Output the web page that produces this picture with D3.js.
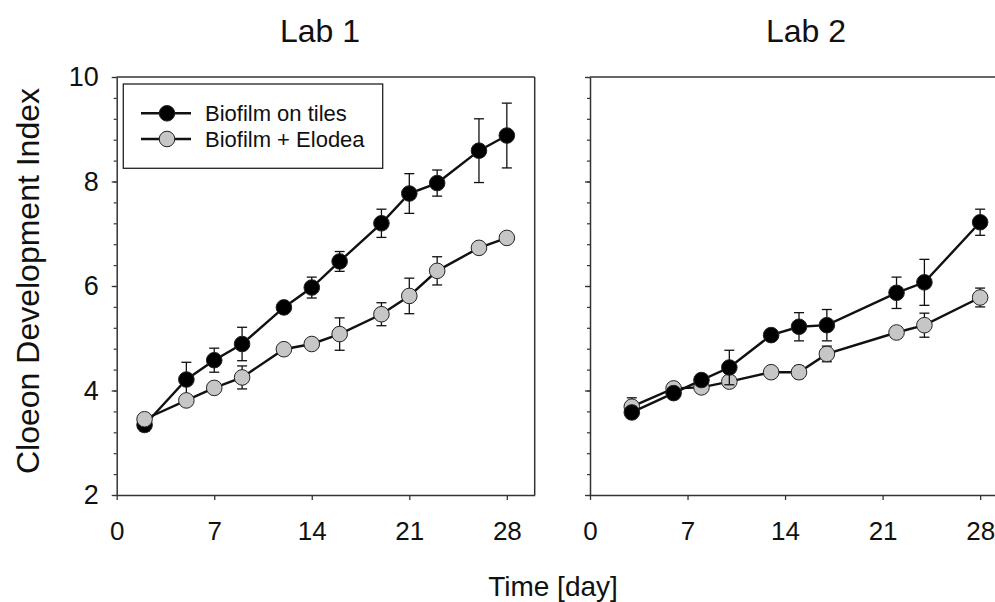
<!DOCTYPE html>
<html>
<head>
<meta charset="utf-8">
<script src="https://cdn.jsdelivr.net/npm/d3@7"></script>
<style>
  body { margin: 0; background: #fff; }
  text { font-family: "Liberation Sans", Arial, sans-serif; fill: #111; }
</style>
</head>
<body>
<div id="chart"></div>
<script>
// data
var seriesNames = ["Biofilm on tiles", "Biofilm + Elodea"];

var lab1Days = [2, 5, 7, 9, 12, 14, 16, 19, 21, 23, 26, 28];
var lab1Tiles = [3.34, 4.21, 4.58, 4.89, 5.59, 5.97, 6.47, 7.20, 7.77, 7.97, 8.59, 8.88];
var lab1TilesErr = [0.12, 0.33, 0.23, 0.32, 0.08, 0.20, 0.19, 0.27, 0.38, 0.25, 0.61, 0.62];
var lab1Elodea = [3.45, 3.81, 4.05, 4.25, 4.79, 4.89, 5.08, 5.46, 5.81, 6.29, 6.73, 6.92];
var lab1ElodeaErr = [0.05, 0.08, 0.10, 0.22, 0.08, 0.10, 0.31, 0.22, 0.34, 0.27, 0.10, 0.08];

var lab2Days = [3, 6, 8, 10, 13, 15, 17, 22, 24, 28];
var lab2Tiles = [3.58, 3.95, 4.20, 4.44, 5.06, 5.22, 5.25, 5.87, 6.07, 7.22];
var lab2TilesErr = [0.10, 0.10, 0.10, 0.33, 0.10, 0.27, 0.30, 0.30, 0.44, 0.25];
var lab2Elodea = [3.69, 4.04, 4.06, 4.17, 4.35, 4.35, 4.70, 5.11, 5.25, 5.78];
var lab2ElodeaErr = [0.17, 0.10, 0.10, 0.10, 0.10, 0.12, 0.15, 0.10, 0.23, 0.18];

var xTicks = [0, 7, 14, 21, 28];
var yTicks = [2, 4, 6, 8, 10];
var yMinorTicks = d3.range(2, 10.01, 0.4);

var svgWidth = 995;
var svgHeight = 602;

var panelWidth = 418;
var plotTop = 77;
var plotBottom = 495;
var plotHeight = plotBottom - plotTop;

var svg = d3.select("#chart")
    .append("svg")
    .attr("width", svgWidth)
    .attr("height", svgHeight);

var xScale = d3.scaleLinear().domain([0, 30]).range([0, panelWidth]);
var yScale = d3.scaleLinear().domain([2, 10]).range([plotHeight, 0]);

var colors = { tiles: "#000", elodea: "#c6c6c6" };
var markerR = 7.8;

function drawSeries(g, days, vals, errs, fill) {
    var pts = days.map(function (d, i) { return { x: d, y: vals[i], e: errs[i] }; });

    // error bars
    var eb = g.append("g").attr("stroke", "#111").attr("stroke-width", 1.3);
    pts.forEach(function (p) {
        var cx = xScale(p.x);
        var y1 = yScale(p.y + p.e), y2 = yScale(p.y - p.e);
        eb.append("line").attr("x1", cx).attr("x2", cx).attr("y1", y1).attr("y2", y2);
        eb.append("line").attr("x1", cx - 5).attr("x2", cx + 5).attr("y1", y1).attr("y2", y1);
        eb.append("line").attr("x1", cx - 5).attr("x2", cx + 5).attr("y1", y2).attr("y2", y2);
    });

    var line = d3.line().x(function (p) { return xScale(p.x); }).y(function (p) { return yScale(p.y); });
    g.append("path")
        .datum(pts)
        .attr("d", line)
        .attr("fill", "none")
        .attr("stroke", "#111")
        .attr("stroke-width", 2.4);

    g.selectAll(null)
        .data(pts)
        .enter()
        .append("circle")
        .attr("cx", function (p) { return xScale(p.x); })
        .attr("cy", function (p) { return yScale(p.y); })
        .attr("r", markerR)
        .attr("fill", fill)
        .attr("stroke", "#222")
        .attr("stroke-width", 1);
}

function drawPanel(left, title, titleX, showYLabels) {
    var g = svg.append("g").attr("transform", "translate(" + left + "," + plotTop + ")");

    // frame top and right
    g.append("line").attr("x1", 0).attr("x2", panelWidth).attr("y1", 0).attr("y2", 0)
        .attr("stroke", "#333").attr("stroke-width", 1.5);
    g.append("line").attr("x1", panelWidth).attr("x2", panelWidth).attr("y1", 0).attr("y2", plotHeight)
        .attr("stroke", "#333").attr("stroke-width", 1.5);

    // minor y ticks
    g.append("g")
        .call(d3.axisLeft(yScale).tickValues(yMinorTicks).tickSize(3).tickSizeOuter(0).tickFormat(""))
        .call(function (a) { a.select(".domain").remove(); })
        .selectAll("line").attr("stroke", "#333").attr("stroke-width", 1.2);

    var yAxis = g.append("g")
        .call(d3.axisLeft(yScale).tickValues(yTicks).tickSize(5).tickSizeOuter(0).tickPadding(13)
            .tickFormat(showYLabels ? d3.format("d") : ""));
    yAxis.select(".domain").attr("stroke", "#333").attr("stroke-width", 1.5);
    yAxis.selectAll("line").attr("stroke", "#333").attr("stroke-width", 1.3);
    yAxis.selectAll("text").attr("font-size", 27).attr("fill", "#111")
        .attr("font-family", "Liberation Sans, Arial, sans-serif");

    var xAxis = g.append("g")
        .attr("transform", "translate(0," + plotHeight + ")")
        .call(d3.axisBottom(xScale).tickValues(xTicks).tickSize(5).tickSizeOuter(0).tickPadding(22));
    xAxis.select(".domain").attr("stroke", "#333").attr("stroke-width", 1.5);
    xAxis.selectAll("line").attr("stroke", "#333").attr("stroke-width", 1.3);
    xAxis.selectAll("text").attr("font-size", 26).attr("fill", "#111")
        .attr("font-family", "Liberation Sans, Arial, sans-serif");

    svg.append("text")
        .attr("x", titleX)
        .attr("y", 42)
        .attr("text-anchor", "middle")
        .attr("font-size", 32)
        .text(title);

    return g;
}

var g1 = drawPanel(116.7, "Lab 1", 320, true);
drawSeries(g1, lab1Days, lab1Tiles, lab1TilesErr, colors.tiles);
drawSeries(g1, lab1Days, lab1Elodea, lab1ElodeaErr, colors.elodea);

var g2 = drawPanel(590, "Lab 2", 806, false);
drawSeries(g2, lab2Days, lab2Elodea, lab2ElodeaErr, colors.elodea);
drawSeries(g2, lab2Days, lab2Tiles, lab2TilesErr, colors.tiles);

// legend
var legend = svg.append("g");
legend.append("rect")
    .attr("x", 123.3).attr("y", 84)
    .attr("width", 259.4).attr("height", 84.3)
    .attr("fill", "#fff").attr("stroke", "#222").attr("stroke-width", 1.3);

[colors.tiles, colors.elodea].forEach(function (c, i) {
    var ly = 113.3 + i * 25.7;
    legend.append("line").attr("x1", 141).attr("x2", 191).attr("y1", ly).attr("y2", ly)
        .attr("stroke", "#111").attr("stroke-width", 2.4);
    legend.append("circle").attr("cx", 167).attr("cy", ly).attr("r", markerR)
        .attr("fill", c).attr("stroke", "#222").attr("stroke-width", 1);
    legend.append("text").attr("x", 205).attr("y", ly + 7.8)
        .attr("font-size", 22).text(seriesNames[i]);
});

// axis titles
svg.append("text")
    .attr("transform", "translate(39,281) rotate(-90)")
    .attr("text-anchor", "middle")
    .attr("font-size", 32)
    .text("Cloeon Development Index");

svg.append("text")
    .attr("x", 553)
    .attr("y", 596)
    .attr("text-anchor", "middle")
    .attr("font-size", 28)
    .text("Time [day]");
</script>
</body>
</html>
